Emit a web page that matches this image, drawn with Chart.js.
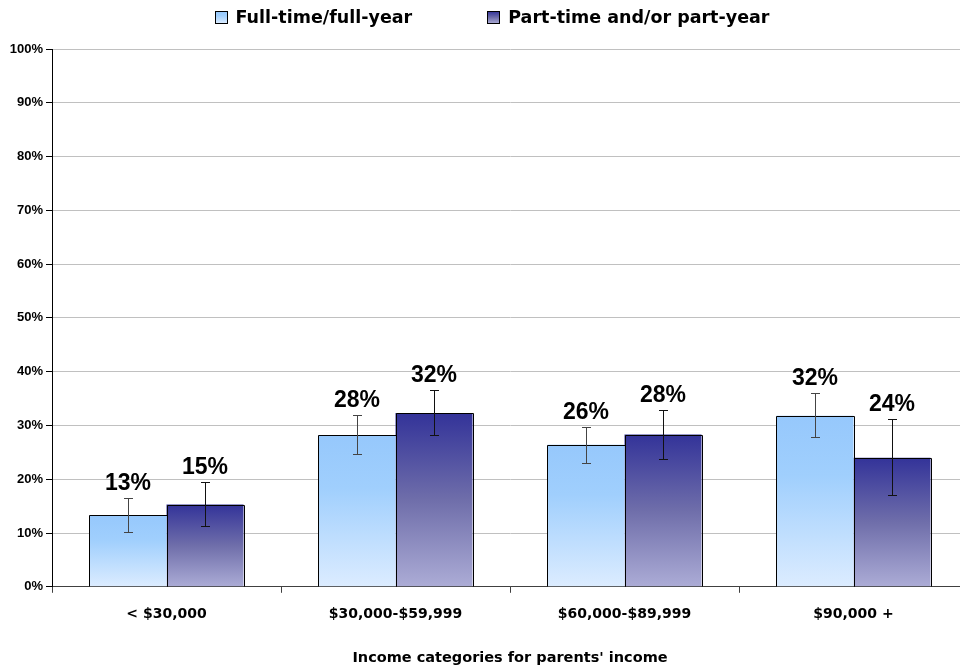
<!DOCTYPE html>
<html>
<head>
<meta charset="utf-8">
<title>Income categories for parents' income</title>
<script src="https://cdn.jsdelivr.net/npm/chart.js@4.4.1/dist/chart.umd.min.js"></script>
<style>
    html, body { margin: 0; padding: 0; background: #fff; }
    #wrap { width: 960px; height: 671px; overflow: hidden; }
    #incomeChart { display: block; }
</style>
</head>
<body>
<div id="wrap"><canvas id="incomeChart" width="980" height="671"></canvas></div>
<script>
const categories = ['< $30,000', '$30,000-$59,999', '$60,000-$89,999', '$90,000 +'];
const seriesNames = ['Full-time/full-year', 'Part-time and/or part-year'];

const fullTime = [13.3, 28.2, 26.4, 31.8];
const fullTimeLow = [10.2, 24.7, 23.1, 27.8];
const fullTimeHigh = [16.6, 32.0, 29.8, 36.0];

const partTime = [15.3, 32.3, 28.3, 24.0];
const partTimeLow = [11.3, 28.2, 23.7, 17.0];
const partTimeHigh = [19.4, 36.6, 32.8, 31.2];

const yTicks = [0, 10, 20, 30, 40, 50, 60, 70, 80, 90, 100];

const errorLow = [fullTimeLow, partTimeLow];
const errorHigh = [fullTimeHigh, partTimeHigh];

const gradStops = [
    [[0, '#96c8fc'], [0.35, '#a0cffd'], [1, '#dcecff']],
    [[0, '#333399'], [0.5, '#6f6eaa'], [1, '#acacd6']]
];

// vertical gradient spanning one bar, from its top down to zero
const barGradient = function (stops) {
    return function (context) {
        const chart = context.chart;
        if (!chart.chartArea || context.dataIndex === undefined) {
            return stops[0][1];
        }
        const y = chart.scales.y;
        const top = y.getPixelForValue(context.raw);
        const bottom = y.getPixelForValue(0);
        const g = chart.ctx.createLinearGradient(0, top, 0, bottom);
        stops.forEach(s => g.addColorStop(s[0], s[1]));
        return g;
    };
};

// crisp bar outlines, error bars and value labels above them
const errorBarPlugin = {
    id: 'errorBars',
    afterDatasetsDraw(chart) {
        const ctx = chart.ctx;
        const y = chart.scales.y;
        const colors = ['#444444', '#111111'];
        chart.data.datasets.forEach((ds, i) => {
            const meta = chart.getDatasetMeta(i);
            meta.data.forEach((bar, j) => {
                const p = bar.getProps(['x', 'y', 'base', 'width'], true);
                const l = Math.round(p.x - p.width / 2) + 0.5;
                const r = Math.round(p.x + p.width / 2) + 0.5;
                const t = Math.round(p.y) + 0.5;
                const b = Math.round(p.base) + 0.5;
                ctx.save();
                ctx.strokeStyle = '#000';
                ctx.lineWidth = 1;
                ctx.beginPath();
                ctx.moveTo(l, b);
                ctx.lineTo(l, t);
                ctx.lineTo(r, t);
                ctx.lineTo(r, b);
                ctx.stroke();
                ctx.restore();
            });
        });
        chart.data.datasets.forEach((ds, i) => {
            const meta = chart.getDatasetMeta(i);
            meta.data.forEach((bar, j) => {
                const yLo = Math.round(y.getPixelForValue(errorLow[i][j])) + 0.5;
                const yHi = Math.round(y.getPixelForValue(errorHigh[i][j])) + 0.5;
                const x = Math.round(bar.x) + 0.5;
                ctx.save();
                ctx.strokeStyle = colors[i];
                ctx.lineWidth = 1;
                ctx.beginPath();
                ctx.moveTo(x, yHi);
                ctx.lineTo(x, yLo);
                ctx.moveTo(x - 4.5, yHi);
                ctx.lineTo(x + 4.5, yHi);
                ctx.moveTo(x - 4.5, yLo);
                ctx.lineTo(x + 4.5, yLo);
                ctx.stroke();

                ctx.fillStyle = '#000';
                ctx.font = 'bold 23px "Liberation Sans", Arial, sans-serif';
                ctx.textAlign = 'center';
                ctx.textBaseline = 'alphabetic';
                ctx.fillText(Math.round(ds.data[j]) + '%', bar.x, yHi - 9);
                ctx.restore();
            });
        });
    }
};

// legend row at the top: gradient boxes with wide spacing
const topLegendPlugin = {
    id: 'topLegend',
    afterDraw(chart) {
        const ctx = chart.ctx;
        const cy = 17;
        const box = 12;
        const gap = 9;
        const spacing = 75;
        ctx.save();
        ctx.font = 'bold 17.5px "DejaVu Sans"';
        const widths = seriesNames.map(t => ctx.measureText(t).width);
        const total = widths.reduce((a, w) => a + box + gap + w, 0) + spacing;
        let x = chart.width / 2 + 2 - total / 2;
        seriesNames.forEach((name, i) => {
            const bx = Math.round(x) + 0.5;
            const by = Math.round(cy - box / 2) + 0.5;
            const g = ctx.createLinearGradient(0, by, 0, by + box);
            gradStops[i].forEach(s => g.addColorStop(s[0], s[1]));
            ctx.fillStyle = g;
            ctx.fillRect(bx, by, box, box);
            ctx.strokeStyle = '#000';
            ctx.lineWidth = 1;
            ctx.strokeRect(bx, by, box, box);
            ctx.fillStyle = '#000';
            ctx.textAlign = 'left';
            ctx.textBaseline = 'middle';
            ctx.fillText(name, x + box + gap, cy + 1);
            x += box + gap + widths[i] + spacing;
        });
        ctx.restore();
    }
};

const chart = new Chart(document.getElementById('incomeChart'), {
    type: 'bar',
    data: {
        labels: categories,
        datasets: [
            {
                label: seriesNames[0],
                data: fullTime,
                backgroundColor: barGradient(gradStops[0]),
                borderWidth: 0,
                categoryPercentage: 0.6725,
                barPercentage: 1.0
            },
            {
                label: seriesNames[1],
                data: partTime,
                backgroundColor: barGradient(gradStops[1]),
                borderWidth: 0,
                categoryPercentage: 0.6725,
                barPercentage: 1.0
            }
        ]
    },
    options: {
        responsive: false,
        animation: false,
        devicePixelRatio: 1,
        layout: {
            padding: { top: 49, right: 12, bottom: 4, left: 0 }
        },
        plugins: {
            legend: { display: false },
            tooltip: { enabled: false }
        },
        scales: {
            x: {
                grid: {
                    display: true,
                    drawOnChartArea: false,
                    drawTicks: true,
                    tickLength: 6,
                    color: '#404040',
                    offset: true
                },
                border: { color: '#404040', width: 1 },
                ticks: {
                    color: '#000',
                    font: { family: 'DejaVu Sans', weight: 'bold', size: 14 },
                    padding: 13,
                    maxRotation: 0
                },
                title: {
                    display: true,
                    text: "Income categories for parents' income",
                    color: '#000',
                    font: { family: 'DejaVu Sans', weight: 'bold', size: 14.5 },
                    padding: { top: 14, bottom: 0 }
                }
            },
            y: {
                min: 0,
                max: 100,
                afterBuildTicks: function (scale) {
                    scale.ticks = yTicks.map(v => ({ value: v }));
                },
                afterFit: function (scale) {
                    scale.width = 52;
                },
                grid: {
                    color: function (c) {
                        return c.tick && c.tick.value === 0 ? '#404040' : '#c0c0c0';
                    },
                    tickColor: '#000',
                    tickLength: 6
                },
                border: { color: '#000', width: 1 },
                ticks: {
                    color: '#000',
                    font: { family: 'Liberation Sans', weight: 'bold', size: 13 },
                    padding: 3,
                    callback: function (value) {
                        return value + '%';
                    }
                }
            }
        }
    },
    plugins: [errorBarPlugin, topLegendPlugin]
});
</script>
</body>
</html>
